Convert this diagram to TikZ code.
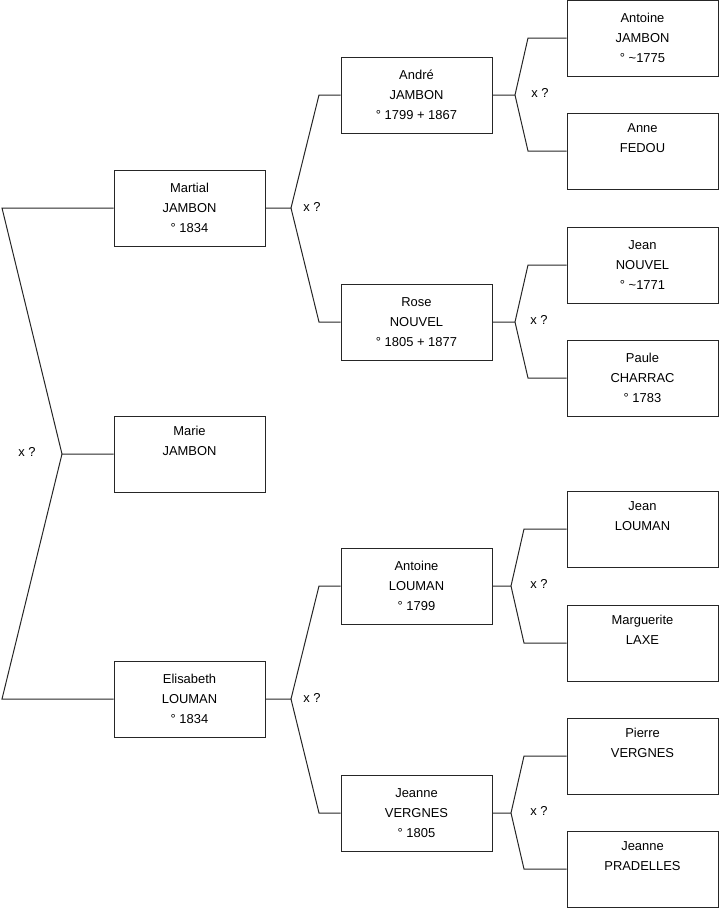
\documentclass[tikz,border=0pt]{standalone}
\usepackage{fontspec}
\setmainfont{Liberation Sans}
\begin{document}
\begin{tikzpicture}[x=0.75pt,y=-0.75pt,
  person/.style={draw=black!85, line width=0.75pt, minimum width=113.25pt, minimum height=57pt,
    inner sep=0pt, align=center, font=\fontsize{9.7}{15}\selectfont},
  link/.style={draw=black!85, line width=0.75pt},
  lab/.style={inner sep=0pt, font=\fontsize{9.7}{12}\selectfont}]
\useasboundingbox (0,0) rectangle (719,908);

% generation 1
\node[person] (martial) at (189.5,208) {Martial\\JAMBON\\° 1834};
\node[person] (marie) at (189.5,454) {Marie\\JAMBON\\\strut};
\node[person] (elisabeth) at (189.5,699) {Elisabeth\\LOUMAN\\° 1834};
% generation 2
\node[person] (andre) at (416.5,95) {André\\JAMBON\\° 1799 + 1867};
\node[person] (rose) at (416.5,322) {Rose\\NOUVEL\\° 1805 + 1877};
\node[person] (antoinel) at (416.5,586) {Antoine\\LOUMAN\\° 1799};
\node[person] (jeannev) at (416.5,813) {Jeanne\\VERGNES\\° 1805};
% generation 3
\node[person] (antoinej) at (642.5,38) {Antoine\\JAMBON\\° \char`\~1775};
\node[person] (anne) at (642.5,151) {Anne\\FEDOU\\\strut};
\node[person] (jeann) at (642.5,265) {Jean\\NOUVEL\\° \char`\~1771};
\node[person] (paule) at (642.5,378) {Paule\\CHARRAC\\° 1783};
\node[person] (jeanl) at (642.5,529.5) {Jean\\LOUMAN\\\strut};
\node[person] (marguerite) at (642.5,643) {Marguerite\\LAXE\\\strut};
\node[person] (pierre) at (642.5,756) {Pierre\\VERGNES\\\strut};
\node[person] (jeannep) at (642.5,869) {Jeanne\\PRADELLES\\\strut};

% fork coordinates
\coordinate (f0) at (62,454);
\coordinate (f0a) at (2,208);
\coordinate (f0b) at (2,699);
\coordinate (f1) at (291,208);
\coordinate (f1a) at (319,95);
\coordinate (f1b) at (319,322);
\coordinate (f2) at (515,95);
\coordinate (f2a) at (528,38);
\coordinate (f2b) at (528,151);
\coordinate (f3) at (515,322);
\coordinate (f3a) at (528,265);
\coordinate (f3b) at (528,378);
\coordinate (f4) at (291,699);
\coordinate (f4a) at (319,586);
\coordinate (f4b) at (319,813);
\coordinate (f5) at (511,586);
\coordinate (f5a) at (524,529);
\coordinate (f5b) at (524,643);
\coordinate (f6) at (511,813);
\coordinate (f6a) at (524,756);
\coordinate (f6b) at (524,869);

% connectors
\draw[link] (marie.west |- f0) -- (f0) -- (f0a) -- (martial.west |- f0a);
\draw[link] (f0) -- (f0b) -- (elisabeth.west |- f0b);
\draw[link] (martial.east |- f1) -- (f1) -- (f1a) -- (andre.west |- f1a);
\draw[link] (f1) -- (f1b) -- (rose.west |- f1b);
\draw[link] (andre.east |- f2) -- (f2) -- (f2a) -- (antoinej.west |- f2a);
\draw[link] (f2) -- (f2b) -- (anne.west |- f2b);
\draw[link] (rose.east |- f3) -- (f3) -- (f3a) -- (jeann.west |- f3a);
\draw[link] (f3) -- (f3b) -- (paule.west |- f3b);
\draw[link] (elisabeth.east |- f4) -- (f4) -- (f4a) -- (antoinel.west |- f4a);
\draw[link] (f4) -- (f4b) -- (jeannev.west |- f4b);
\draw[link] (antoinel.east |- f5) -- (f5) -- (f5a) -- (jeanl.west |- f5a);
\draw[link] (f5) -- (f5b) -- (marguerite.west |- f5b);
\draw[link] (jeannev.east |- f6) -- (f6) -- (f6a) -- (pierre.west |- f6a);
\draw[link] (f6) -- (f6b) -- (jeannep.west |- f6b);

% labels
\node[lab] (l0) at (27,452) {x ?};
\node[lab] (l1) at (312,207) {x ?};
\node[lab] (l2) at (540,93) {x ?};
\node[lab] (l3) at (539,320) {x ?};
\node[lab] (l4) at (312,698) {x ?};
\node[lab] (l5) at (539,584) {x ?};
\node[lab] (l6) at (539,811) {x ?};
\end{tikzpicture}
\end{document}
